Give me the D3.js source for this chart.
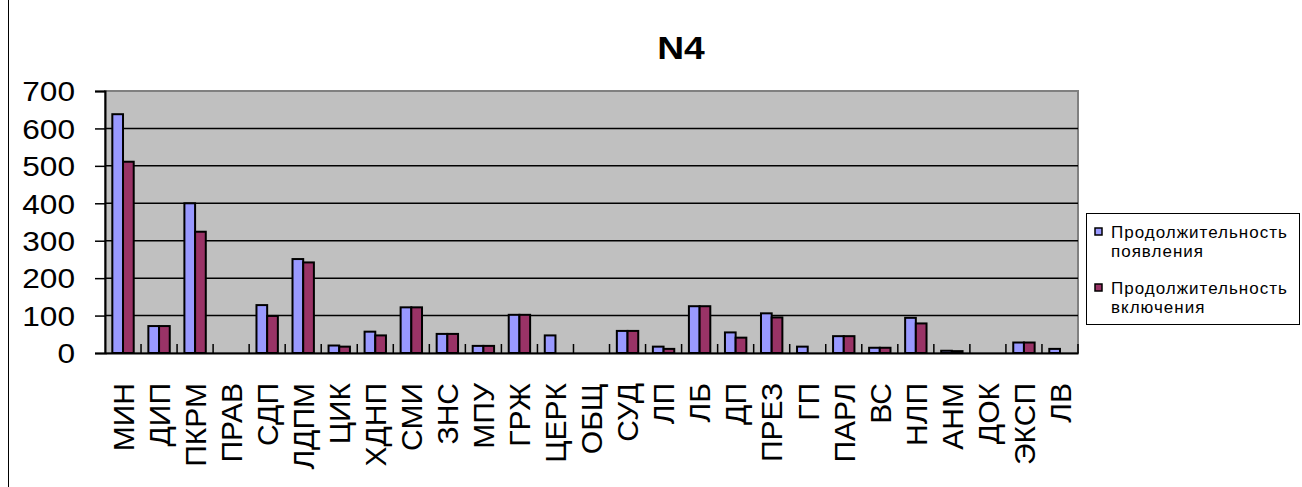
<!DOCTYPE html>
<html><head><meta charset="utf-8">
<script src="https://cdn.jsdelivr.net/npm/d3@7"></script>
<style>body{margin:0;background:#fff}svg{display:block}text{font-family:"Liberation Sans",Arial,sans-serif}</style>
</head><body>
<script>
const categories = ["МИН","ДИП","ПКРМ","ПРАВ","СДП","ЛДПМ","ЦИК","ХДНП","СМИ","ЗНС","МПУ","ГРЖ","ЦЕРК","ОБЩ","СУД","ЛП","ЛБ","ДП","ПРЕЗ","ГП","ПАРЛ","ВС","НЛП","АНМ","ДОК","ЭКСП","ЛВ"];
const appearance = [638,72,400,0,128,251,20,57,122,51,19,102,47,0,59,17,125,55,106,17,45,14,94,6,0,28,11];
const inclusion  = [511,72,324,0,99,242,17,47,122,51,19,102,0,0,59,11,125,41,95,0,45,14,79,5,0,28,0];
const seriesNames = ["Продолжительность появления","Продолжительность включения"];
const yTicks = [0,100,200,300,400,500,600,700];
const title = "N4";

const W=1302,H=487;
const svg=d3.select("body").append("svg").attr("width",W).attr("height",H);
const L=105,R=1078,T=91,B=353;
const x=d3.scaleBand().domain(categories).range([L,R]).padding(0);
const x1=d3.scaleBand().domain([0,1]).range([0,x.bandwidth()]).paddingInner(0).paddingOuter(0.685);
const y=d3.scaleLinear().domain([0,700]).range([B,T]);
const colors=["#9999FF","#993366"];
function stretch(sel,k){sel.each(function(){const w=this.getComputedTextLength();d3.select(this).attr("textLength",w*k).attr("lengthAdjust","spacingAndGlyphs");});}

// chart left border
svg.append("line").attr("x1",8.5).attr("x2",8.5).attr("y1",0).attr("y2",H).attr("stroke","#000");

// plot area
svg.append("rect").attr("x",L).attr("y",T).attr("width",R-L).attr("height",B-T).attr("fill","#C0C0C0").attr("stroke","#808080").attr("stroke-width",2);
svg.append("g").selectAll("line").data(yTicks.filter(d=>d>0&&d<700)).join("line")
  .attr("x1",L).attr("x2",R).attr("y1",d=>y(d)).attr("y2",d=>y(d)).attr("stroke","#000").attr("stroke-width",1.5);

// bars
const data=[appearance,inclusion];
data.forEach((vals,si)=>{
  svg.append("g").selectAll("rect").data(categories.map((c,i)=>({c,v:vals[i]})).filter(d=>d.v>0)).join("rect")
    .attr("x",d=>x(d.c)+x1(si)).attr("width",x1.bandwidth())
    .attr("y",d=>y(d.v)).attr("height",d=>B-y(d.v))
    .attr("fill",colors[si]).attr("stroke","#000").attr("stroke-width",2);
});

// y axis
const ya=d3.axisLeft(y).tickValues(yTicks).tickSize(10).tickPadding(30);
const yg=svg.append("g").attr("transform",`translate(${L},0)`).call(ya);
yg.select(".domain").attr("stroke","#000").attr("stroke-width",2);
yg.selectAll(".tick line").attr("stroke","#000").attr("stroke-width",1.5);
yg.selectAll(".tick text").attr("font-size",27).attr("fill","#000").attr("font-family","Liberation Sans, Arial, sans-serif").attr("x",-30).attr("dy","0.36em");
stretch(yg.selectAll(".tick text"),1.17);

// x axis
const xa=d3.axisBottom(x).tickSize(0).tickPadding(0);
const xg=svg.append("g").attr("transform",`translate(0,${B})`).call(xa);
xg.select(".domain").attr("stroke","#000").attr("stroke-width",2);
xg.selectAll(".tick text").attr("font-size",30).attr("fill","#000").attr("font-family","Liberation Sans, Arial, sans-serif")
  .attr("text-anchor","end").attr("transform","rotate(-90)").attr("x",-30).attr("y",0).attr("dy","0.36em");
// category boundary ticks (upward)
svg.append("g").selectAll("line").data(categories.slice(1).map(c=>x(c)).concat([R])).join("line")
  .attr("x1",d=>d).attr("x2",d=>d).attr("y1",B).attr("y2",B-9).attr("stroke","#000").attr("stroke-width",1.5);

// title
const tt=svg.append("text").attr("x",681).attr("y",59).attr("text-anchor","middle").attr("font-size",31).attr("font-weight","bold").text(title);
stretch(tt,1.2);

// legend
const lg=svg.append("g");
lg.append("rect").attr("x",1086.5).attr("y",213.5).attr("width",213).attr("height",111).attr("fill","#fff").attr("stroke","#000");
const lines=[["Продолжительность","появления"],["Продолжительность","включения"]];
lines.forEach((ln,i)=>{
  const yy=238+i*56;
  lg.append("rect").attr("x",1095).attr("y",yy-10).attr("width",7).attr("height",7).attr("fill",colors[i]).attr("stroke","#000").attr("stroke-width",1.5);
  lg.append("text").attr("x",1111).attr("y",yy).attr("font-size",17).attr("letter-spacing",1).text(ln[0]);
  lg.append("text").attr("x",1111).attr("y",yy+19).attr("font-size",17).attr("letter-spacing",1).text(ln[1]);
});
</script>
</body></html>
